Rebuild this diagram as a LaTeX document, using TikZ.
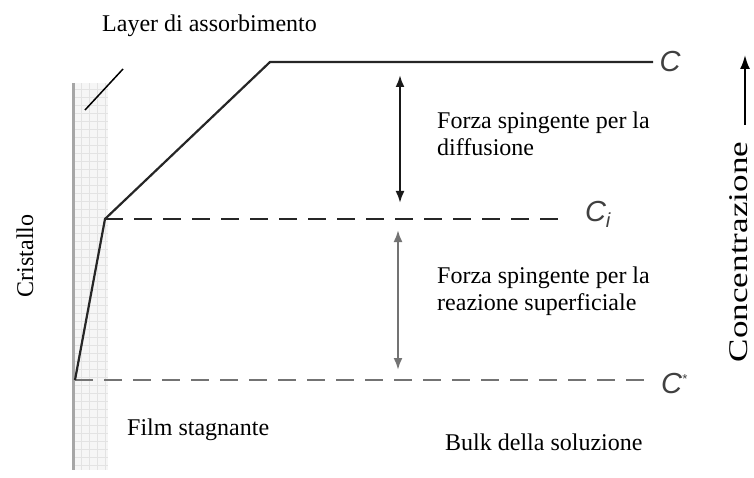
\documentclass[tikz,border=0pt]{standalone}
\usepackage{fontspec}
\setmainfont{Liberation Serif}
\newfontfamily\labfont{Liberation Sans}
\usetikzlibrary{arrows.meta}
\begin{document}
\begin{tikzpicture}[x=1pt,y=-1pt,
  txt/.style={inner sep=0pt, font=\fontsize{24}{27}\selectfont},
  clab/.style={inner sep=0pt, text=black!75, font=\labfont\itshape\fontsize{29}{30}\selectfont},
  curve/.style={line width=2.2pt, black!85, line join=round},
  dashci/.style={line width=2.2pt, black!85, dash pattern=on 18pt off 11pt},
  dashcs/.style={line width=2.6pt, black!55, dash pattern=on 18pt off 11pt},
  dbl/.style={line width=2.2pt, {Latex[length=12pt,width=9pt]}-{Latex[length=12pt,width=9pt]}},
  gridln/.style={gray!22, line width=0.6pt},
]
\useasboundingbox (0,0) rectangle (754,478);
% crystal wall band
\fill[gray!7] (73,83) rectangle (108,470);
\foreach \yy in {89,97,...,465} \draw[gridln] (73,\yy) -- (108,\yy);
\foreach \xx in {81,89,97,105} \draw[gridln] (\xx,83) -- (\xx,470);
\coordinate (wtop) at (73,83);
\coordinate (wbot) at (73,470);
\draw[gray!70, line width=3pt] (wtop) -- (wbot);
% absorption layer pointer
\coordinate (lp1) at (85,110);
\coordinate (lp2) at (123,69);
\draw[line width=1.5pt] (lp1) -- (lp2);
% concentration profile
\coordinate (p0) at (75,380);
\coordinate (knee) at (105,219);
\coordinate (ptop) at (270,62);
\coordinate (cend) at (653,62);
\coordinate (ciend) at (563,219);
\coordinate (csend) at (652,380);
\draw[dashcs] (p0) -- (csend);
\draw[dashci] (knee) -- (ciend);
\draw[curve] (p0) -- (knee) -- (ptop) -- (cend);
% labels of levels
\node[clab] (lc) at (670,62) {C};
\node[clab] (lci) at (598,214) {C\textsubscript{i}};
\node[clab] (lcs) at (674,384) {C\raisebox{10pt}{\fontsize{13}{13}\selectfont *}};
% driving force arrows
\coordinate (a1t) at (400,75);
\coordinate (a1b) at (400,203);
\coordinate (a2t) at (398,230);
\coordinate (a2b) at (398,370);
\draw[dbl, black!90] (a1t) -- (a1b);
\draw[dbl, black!55] (a2t) -- (a2b);
% texts
\node[txt, anchor=base west] (layer) at (102,32) {Layer di assorbimento};
\node[txt, anchor=north west, align=left] (fdiff) at (437,111.6) {Forza spingente per la\\diffusione};
\node[txt, anchor=north west, align=left] (freaz) at (437,266.6) {Forza spingente per la\\reazione superficiale};
\node[txt, anchor=base west] (film) at (127,435) {Film stagnante};
\node[txt, anchor=base west] (bulk) at (445,450) {Bulk della soluzione};
\node[txt, rotate=90] (cryst) at (25,256) {Cristallo};
\node[inner sep=0pt, rotate=90, font=\fontsize{27}{29}\selectfont] (conc) at (739,252) {\scalebox{1.3}[1]{Concentrazione}};
% concentration axis arrow
\coordinate (cab) at (745,125);
\coordinate (cat) at (745,55);
\draw[line width=2pt, -{Latex[length=14pt,width=10pt]}] (cab) -- (cat);
\end{tikzpicture}
\end{document}
